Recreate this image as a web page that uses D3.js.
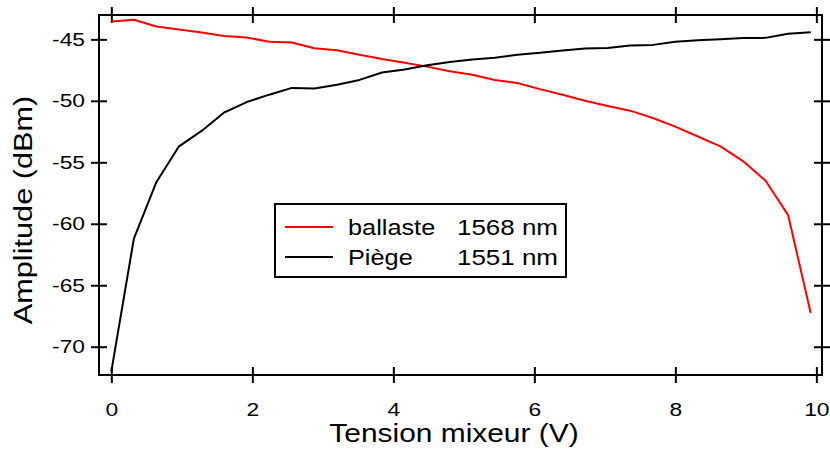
<!DOCTYPE html>
<meta charset="utf-8">
<html>
<head>
<style>
  body { margin: 0; background: #fff; }
  text { font-family: "Liberation Sans", Arial, sans-serif; fill: #000; }
</style>
</head>
<body>
<div id="chart"></div>
<script src="https://d3js.org/d3.v7.min.js"></script>
<script>

// tension mixeur (V)
var tension = [0, 0.32, 0.64, 0.96, 1.28, 1.6, 1.92, 2.24, 2.56, 2.88, 3.2, 3.52, 3.84, 4.16, 4.48, 4.8,
               5.12, 5.44, 5.76, 6.08, 6.4, 6.72, 7.04, 7.36, 7.68, 8.0, 8.32, 8.64, 8.96, 9.28, 9.6, 9.92];

// ballaste 1568 nm (dBm)
var ballaste = [-43.55, -43.4, -43.95, -44.2, -44.45, -44.73, -44.85, -45.2, -45.25, -45.72, -45.88, -46.25,
                -46.6, -46.9, -47.22, -47.6, -47.88, -48.3, -48.55, -49.05, -49.5, -50.0, -50.42, -50.8,
                -51.4, -52.1, -52.9, -53.7, -54.9, -56.5, -59.3, -67.25];

// Piège 1551 nm (dBm)
var piege = [-72.0, -61.2, -56.6, -53.7, -52.45, -50.95, -50.1, -49.5, -48.95, -49.0, -48.7, -48.3,
             -47.7, -47.45, -47.1, -46.85, -46.63, -46.5, -46.25, -46.1, -45.9, -45.75, -45.7, -45.5,
             -45.45, -45.2, -45.08, -45.0, -44.9, -44.88, -44.55, -44.43];

var xTicks = [0, 2, 4, 6, 8, 10];
var yTicks = [-70, -65, -60, -55, -50, -45];

var seriesNames = ["ballaste", "Pi\u00e8ge"];
var seriesWave = ["1568 nm", "1551 nm"];
var seriesColors = ["#ff0000", "#000000"];

var margin = {top: 15, right: 8, bottom: 75, left: 99},
    width = 822 - margin.left,
    height = 375 - margin.top;

var svg = d3.select("#chart")
  .append("svg")
    .attr("width", 830)
    .attr("height", 450)
  .append("g")
    .attr("transform", "translate(" + margin.left + "," + margin.top + ")");

var x = d3.scaleLinear()
  .domain([-0.175, 10.08])
  .range([0, width]);

var y = d3.scaleLinear()
  .domain([-72.3, -43.02])
  .range([height, 0]);

// the original font is wider than Arial, stretch the glyphs a bit
function stretch(sel, k) {
  sel.each(function() {
    var w = this.getComputedTextLength();
    d3.select(this)
      .attr("textLength", w * k)
      .attr("lengthAdjust", "spacingAndGlyphs");
  });
}

// axes, ticks crossing the frame
function crossTicks(g) {
  g.select(".domain").remove();
  g.selectAll(".tick line").attr("stroke", "#000").attr("stroke-width", 2);
}

var plain = function(d) { return String(d); };

var xBottom = svg.append("g")
  .attr("transform", "translate(0," + height + ")")
  .call(d3.axisBottom(x).tickValues(xTicks).tickSize(8).tickFormat(plain))
  .call(crossTicks);
xBottom.selectAll(".tick line").attr("y1", -8);
xBottom.selectAll(".tick text")
  .attr("y", 41)
  .attr("dy", null)
  .style("font-size", "19px")
  .call(stretch, 1.2);

var xTop = svg.append("g")
  .call(d3.axisTop(x).tickValues(xTicks).tickSize(8).tickFormat(""))
  .call(crossTicks);
xTop.selectAll(".tick line").attr("y1", 8);

var yLeft = svg.append("g")
  .call(d3.axisLeft(y).tickValues(yTicks).tickSize(8).tickPadding(6).tickFormat(plain))
  .call(crossTicks);
yLeft.selectAll(".tick line").attr("x1", 8);
yLeft.selectAll(".tick text")
  .style("font-size", "19px")
  .call(stretch, 1.2);

var yRight = svg.append("g")
  .attr("transform", "translate(" + width + ",0)")
  .call(d3.axisRight(y).tickValues(yTicks).tickSize(8).tickFormat(""))
  .call(crossTicks);
yRight.selectAll(".tick line").attr("x1", -8);

// frame
svg.append("rect")
  .attr("x", 0)
  .attr("y", 0)
  .attr("width", width)
  .attr("height", height)
  .attr("fill", "none")
  .attr("stroke", "#000")
  .attr("stroke-width", 2);

// lines
var line = d3.line()
  .x(function(d) { return x(d[0]); })
  .y(function(d) { return y(d[1]); });

[ballaste, piege].forEach(function(vals, k) {
  svg.append("path")
    .datum(tension.map(function(t, i) { return [t, vals[i]]; }))
    .attr("fill", "none")
    .attr("stroke", seriesColors[k])
    .attr("stroke-width", 2)
    .attr("stroke-linejoin", "round")
    .attr("d", line);
});

// axis titles
svg.append("text")
  .attr("x", 454 - margin.left)
  .attr("y", 442 - margin.top)
  .style("text-anchor", "middle")
  .style("font-size", "26px")
  .text("Tension mixeur (V)")
  .call(stretch, 1.15);

svg.append("text")
  .attr("transform", "rotate(-90)")
  .attr("x", -(210 - margin.top))
  .attr("y", 32 - margin.left)
  .style("text-anchor", "middle")
  .style("font-size", "26px")
  .text("Amplitude (dBm)")
  .call(stretch, 1.18);

// legend
var legend = svg.append("g")
  .attr("transform", "translate(" + (275 - margin.left) + "," + (204 - margin.top) + ")");

legend.append("rect")
  .attr("width", 291)
  .attr("height", 73)
  .attr("fill", "#fff")
  .attr("stroke", "#000")
  .attr("stroke-width", 2);

seriesNames.forEach(function(name, k) {
  var cy = 23 + k * 30;
  legend.append("line")
    .attr("x1", 10).attr("x2", 58)
    .attr("y1", cy).attr("y2", cy)
    .attr("stroke", seriesColors[k])
    .attr("stroke-width", 2);
  legend.append("text")
    .attr("x", 73)
    .attr("y", cy + 8)
    .style("font-size", "22px")
    .text(name)
    .call(stretch, 1.15);
  legend.append("text")
    .attr("x", 283)
    .attr("y", cy + 8)
    .style("text-anchor", "end")
    .style("font-size", "22px")
    .text(seriesWave[k])
    .call(stretch, 1.18);
});

</script>
</body>
</html>
